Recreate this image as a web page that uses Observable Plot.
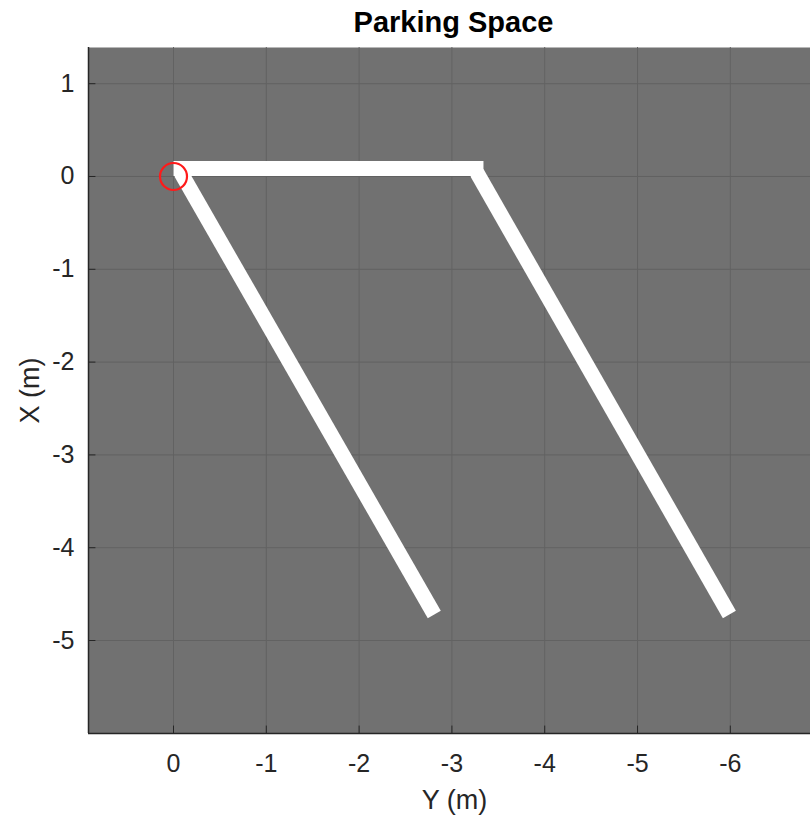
<!DOCTYPE html>
<html>
<head>
<meta charset="utf-8">
<script src="https://cdn.jsdelivr.net/npm/d3@7"></script>
<script src="https://cdn.jsdelivr.net/npm/@observablehq/plot@0.6"></script>
<style>
  html, body { margin: 0; padding: 0; background: #ffffff; }
  #chart svg { display: block; }
</style>
</head>
<body>
<div id="chart"></div>
<script>
// Axis ticks
const xTicks = [0, -1, -2, -3, -4, -5, -6];   // horizontal axis: Y (m)
const yTicks = [1, 0, -1, -2, -3, -4, -5];    // vertical axis: X (m)
const xDomain = [0.916, -6.864];
const yDomain = [-6.002, 1.39];

// Parking lines (Y, X in metres)
const lineId = ["top", "top", "left", "left", "right", "right"];
const lineY  = [0, -3.34, -0.08, -2.81, -3.27, -5.99];
const lineX  = [0.085, 0.085, 0.04, -4.72, 0.04, -4.72];

// Vehicle origin marker
const originY = [0];
const originX = [0];

const title = "Parking Space";
const xLabel = "Y (m)";
const yLabel = "X (m)";

const lines = lineId.map((id, i) => ({id, y: lineY[i], x: lineX[i]}));
const origin = originY.map((y, i) => ({y, x: originX[i]}));

const bg = "#717171";
const gridC = "#626262";
const axisC = "#262626";
const font = "'Liberation Sans', Arial, Helvetica, sans-serif";

const chart = Plot.plot({
  width: 810,
  height: 823,
  marginLeft: 88,
  marginRight: 0,
  marginTop: 47,
  marginBottom: 90,
  style: {fontFamily: font, background: "#ffffff"},
  x: {domain: xDomain, axis: null},
  y: {domain: yDomain, axis: null},
  marks: [
    Plot.frame({fill: bg, stroke: null}),
    Plot.ruleX(xTicks, {x: d => d, stroke: gridC, strokeWidth: 1}),
    Plot.ruleY(yTicks, {y: d => d, stroke: gridC, strokeWidth: 1}),
    Plot.line(lines, {x: "y", y: "x", z: "id", stroke: "#ffffff", strokeWidth: 15, strokeLinecap: "butt", strokeLinejoin: "miter"}),
    Plot.dot(origin, {x: "y", y: "x", r: 13.5, stroke: "#ff1a1a", strokeWidth: 2.2, fill: "none"}),
    // inward ticks
    Plot.ruleX(xTicks, {x: d => d, y1: yDomain[0], y2: yDomain[0] + 0.08, stroke: axisC, strokeWidth: 1}),
    Plot.ruleY(yTicks, {y: d => d, x1: xDomain[0], x2: xDomain[0] - 0.08, stroke: axisC, strokeWidth: 1}),
    // axis lines
    Plot.ruleX([xDomain[0]], {stroke: axisC, strokeWidth: 1.5}),
    Plot.ruleY([yDomain[0]], {stroke: axisC, strokeWidth: 1.5}),
    // tick labels
    Plot.axisX({ticks: xTicks, tickSize: 0, tickPadding: 21, tickFormat: d => String(d), fontSize: 25, color: "#262626", label: null}),
    Plot.axisY({ticks: yTicks, tickSize: 0, tickPadding: 14, tickFormat: d => String(d), fontSize: 25, color: "#262626", label: null}),
    // titles
    Plot.text([title], {frameAnchor: "top", dy: -25, dx: 4, lineAnchor: "middle", textAnchor: "middle", text: d => d, fontSize: 29, fontWeight: "bold", fill: "#000000"}),
    Plot.text([xLabel], {frameAnchor: "bottom", dy: 67, dx: 5, lineAnchor: "middle", textAnchor: "middle", text: d => d, fontSize: 27, fill: "#262626"}),
    Plot.text([yLabel], {frameAnchor: "left", dx: -58, rotate: -90, lineAnchor: "middle", textAnchor: "middle", text: d => d, fontSize: 27, fill: "#262626"})
  ]
});
document.getElementById("chart").appendChild(chart);
</script>
</body>
</html>
